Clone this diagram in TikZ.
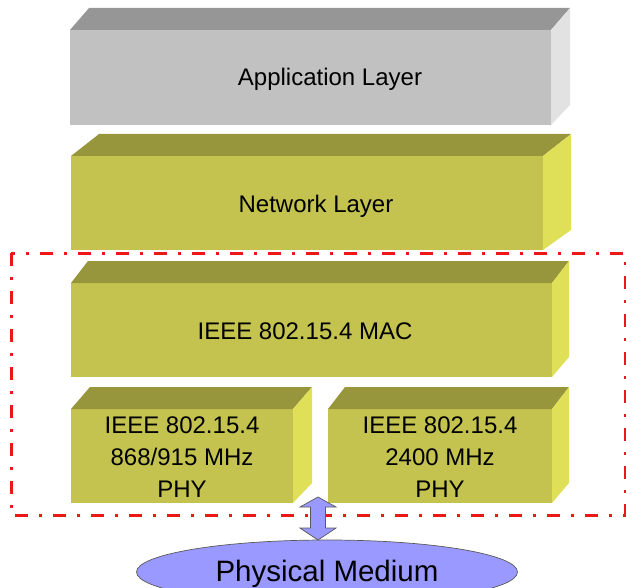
\documentclass[tikz,border=0pt]{standalone}
\usepackage{fontspec}
\setmainfont{Liberation Sans}
\usetikzlibrary{shapes.geometric}
\definecolor{grayfront}{RGB}{193,193,193}
\definecolor{graytop}{RGB}{150,150,150}
\definecolor{grayside}{RGB}{226,226,226}
\definecolor{olfront}{RGB}{196,195,80}
\definecolor{oltop}{RGB}{152,150,60}
\definecolor{olside}{RGB}{224,223,88}
\definecolor{lav}{RGB}{153,153,255}
\definecolor{dashred}{RGB}{236,24,24}
\newcommand\boxfaces[4]{%
  \fill[#3] (#1.north west) -- ++(#2,-22) -- ([shift={(#2,-22)}]#1.north east) -- (#1.north east) -- cycle;
  \fill[#4] (#1.north east) -- ++(#2,-22) -- ([shift={(#2,-20)}]#1.south east) -- (#1.south east) -- cycle;}
\begin{document}
\begin{tikzpicture}[x=1pt,y=-1pt,
  face/.style={inner sep=0pt, outer sep=0pt, anchor=north west},
  lbl/.style={font=\fontsize{24}{32}\selectfont, inner sep=0pt, anchor=base},
  frame/.style={draw=dashred, line width=3pt, dash pattern=on 13pt off 11pt on 3pt off 11pt},
  blockarrow/.style={draw=black!65, fill=lav, line width=0.7pt, line join=miter}]
\useasboundingbox (0,0) rectangle (626,588);
\clip (0,0) rectangle (626,588);

% Application layer
\node[face, fill=grayfront, minimum width=481pt, minimum height=95pt] (app) at (70,30) {};
\boxfaces{app}{19}{graytop}{grayside}
\node[lbl] (apptxt) at (330,86) {Application Layer};

% Network layer
\node[face, fill=olfront, minimum width=472pt, minimum height=94pt] (net) at (71,156) {};
\boxfaces{net}{28}{oltop}{olside}
\node[lbl] (nettxt) at (316,212) {Network Layer};

% MAC
\node[face, fill=olfront, minimum width=481pt, minimum height=94pt] (mac) at (71,283) {};
\boxfaces{mac}{17}{oltop}{olside}
\node[lbl] (mactxt) at (305,339) {IEEE 802.15.4 MAC};

% PHYs
\node[face, fill=olfront, minimum width=222pt, minimum height=94pt] (phya) at (71,409) {};
\boxfaces{phya}{19}{oltop}{olside}
\node[lbl] (pa1) at (182,433) {IEEE 802.15.4};
\node[lbl] (pa2) at (182,465) {868/915 MHz};
\node[lbl] (pa3) at (182,497) {PHY};

\node[face, fill=olfront, minimum width=224pt, minimum height=94pt] (phyb) at (328,409) {};
\boxfaces{phyb}{17}{oltop}{olside}
\node[lbl] (pb1) at (440,433) {IEEE 802.15.4};
\node[lbl] (pb2) at (440,465) {2400 MHz};
\node[lbl] (pb3) at (440,497) {PHY};

% dashed frame
\draw[frame] (11,253) rectangle (625,515);

% physical medium
\node[ellipse, draw=black!65, fill=lav, line width=0.7pt, minimum width=381pt, minimum height=64pt, inner sep=0pt] (pm) at (327,572) {};
\node[font=\fontsize{29.5}{35}\selectfont, inner sep=0pt, anchor=base] (pmtxt) at (327,581) {Physical Medium};

% double block arrow
\coordinate (atop) at (318,497);
\coordinate (abot) at (318,540);
\draw[blockarrow] (atop) -- ++(18,10) -- ++(-10.5,0) -- ++(0,21) -- ++(10.5,0) -- (abot)
  -- ++(-18,-12) -- ++(10.5,0) -- ++(0,-21) -- ++(-10.5,0) -- cycle;
\end{tikzpicture}
\end{document}
